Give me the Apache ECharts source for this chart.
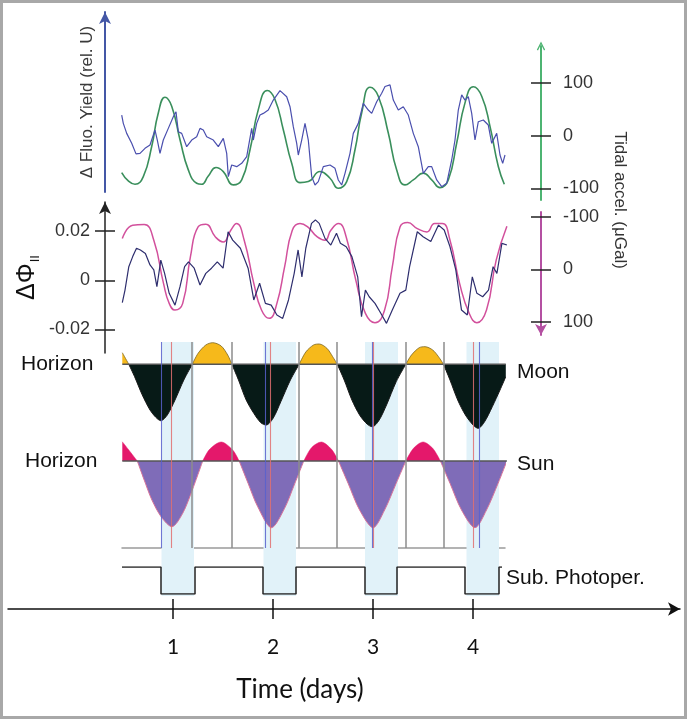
<!DOCTYPE html>
<html><head><meta charset="utf-8">
<script src="https://cdn.jsdelivr.net/npm/echarts@6/dist/echarts.min.js"></script>
<style>html,body{margin:0;padding:0;background:#fff}#c{width:687px;height:719px}</style>
</head><body><div id="c"></div>
<script>
// ---------------- data (time in days) ----------------
const fluoYield = [[0.487,40.5],[0.503,36.0],[0.537,30.6],[0.587,25.2],[0.630,19.5],[0.670,19.8],[0.720,22.5],[0.770,24.3],[0.820,32.4],[0.843,27.0],[0.870,19.8],[0.903,27.0],[0.953,33.3],[1.003,39.6],[1.030,42.3],[1.053,31.5],[1.087,30.6],[1.137,23.4],[1.187,27.0],[1.237,28.8],[1.270,33.3],[1.303,32.4],[1.337,28.8],[1.403,27.0],[1.453,23.4],[1.503,27.9],[1.537,19.8],[1.553,7.2],[1.587,13.5],[1.637,12.6],[1.687,14.4],[1.737,18.0],[1.787,33.3],[1.803,27.0],[1.837,36.0],[1.870,40.5],[1.903,41.4],[1.953,43.2],[2.003,48.6],[2.070,53.7],[2.137,50.4],[2.170,45.0],[2.203,34.2],[2.237,25.2],[2.253,18.9],[2.287,27.0],[2.320,36.0],[2.353,27.0],[2.387,7.2],[2.420,2.7],[2.453,4.5],[2.503,12.6],[2.570,13.5],[2.620,11.7],[2.653,5.4],[2.687,2.7],[2.720,9.0],[2.770,19.8],[2.803,30.6],[2.853,36.0],[2.903,46.8],[2.953,43.2],[2.987,41.4],[3.037,47.7],[3.087,52.3],[3.120,55.9],[3.170,56.8],[3.203,48.6],[3.253,43.2],[3.303,45.0],[3.353,40.5],[3.403,30.6],[3.453,23.4],[3.503,9.0],[3.553,12.6],[3.587,12.6],[3.637,5.4],[3.687,1.8],[3.737,3.6],[3.787,16.2],[3.820,27.0],[3.853,43.2],[3.887,51.4],[3.920,48.6],[3.953,50.4],[3.987,41.4],[4.020,27.0],[4.053,36.9],[4.103,37.8],[4.153,35.1],[4.187,25.2],[4.237,30.6],[4.270,18.9],[4.297,14.4],[4.320,18.9]];

const tidalAccel = [[0.487,-69.9],[0.553,-85.7],[0.620,-92],[0.703,-77.5],[0.787,-20.4],[0.853,43.2],[0.920,73],[0.987,55.8],[1.070,-7.6],[1.153,-64.8],[1.237,-90.1],[1.287,-92],[1.353,-76.2],[1.430,-60.4],[1.503,-68],[1.603,-93.3],[1.687,-83.8],[1.770,-26.7],[1.853,49.5],[1.943,85.7],[2.020,68.6],[2.103,11.4],[2.187,-52],[2.270,-89],[2.353,-87],[2.470,-68],[2.570,-80.6],[2.653,-99.6],[2.737,-87],[2.820,-26.7],[2.887,43.2],[2.970,92],[3.053,74.9],[3.153,5.1],[3.237,-64.8],[3.320,-93.3],[3.403,-83.8],[3.503,-71],[3.587,-83.8],[3.670,-98.5],[3.753,-83.8],[3.837,-13.9],[3.920,62.3],[4.003,92.8],[4.087,74.9],[4.170,17.7],[4.253,-58.5],[4.313,-92]];

const deltaPhiII = [[0.493,-0.0091],[0.520,-0.0040],[0.558,0.0055],[0.597,0.0096],[0.635,0.0130],[0.674,0.0123],[0.724,0.0109],[0.770,0.0062],[0.808,0.0042],[0.839,-0.0026],[0.878,0.0082],[0.916,0.0028],[0.962,-0.0053],[1.020,-0.0101],[1.070,-0.0026],[1.116,0.0055],[1.155,0.0075],[1.212,0.0049],[1.270,-0.0019],[1.328,0.0028],[1.385,0.0049],[1.443,0.0075],[1.501,0.0049],[1.551,0.0197],[1.597,0.0163],[1.674,0.0130],[1.751,0.0049],[1.808,-0.0080],[1.866,-0.0012],[1.924,-0.0094],[1.982,-0.0101],[2.039,-0.0141],[2.097,-0.0155],[2.155,-0.0080],[2.212,0.0028],[2.251,0.0123],[2.289,0.0014],[2.328,0.0130],[2.385,0.0231],[2.424,0.0245],[2.462,0.0231],[2.520,0.0170],[2.578,0.0143],[2.635,0.0191],[2.674,0.0150],[2.732,0.0136],[2.789,0.0096],[2.847,0.0014],[2.885,-0.0148],[2.924,-0.0040],[2.962,-0.0067],[3.020,-0.0094],[3.078,-0.0134],[3.135,-0.0175],[3.193,-0.0121],[3.270,-0.0053],[3.328,-0.0040],[3.366,0.0055],[3.443,0.0197],[3.501,0.0177],[3.578,0.0157],[3.655,0.0224],[3.712,0.0204],[3.770,0.0136],[3.828,0.0042],[3.885,-0.0121],[3.943,-0.0141],[3.993,0.0014],[4.039,-0.0053],[4.097,-0.0067],[4.155,-0.0040],[4.201,0.0055],[4.239,0.0028],[4.289,0.0150],[4.339,0.0143]];

const tidalAccel2 = [[0.493,-58.4],[0.597,-83.6],[0.712,-84.9],[0.808,-55.2],[0.905,26.9],[0.962,64.8],[1.020,77.5],[1.097,64.8],[1.174,-23.5],[1.251,-80.4],[1.328,-85.5],[1.424,-61.4],[1.501,-51.9],[1.578,-74.1],[1.635,-86.8],[1.712,-55.2],[1.808,26.9],[1.885,77.5],[1.962,93.3],[2.039,64.8],[2.116,-4.5],[2.193,-74.1],[2.270,-86.8],[2.347,-80.4],[2.443,-61.4],[2.520,-55.2],[2.578,-74.1],[2.655,-86.8],[2.732,-61.4],[2.828,20.7],[2.924,83.8],[3.020,101.6],[3.116,77.5],[3.193,-4.5],[3.270,-80.4],[3.347,-88.7],[3.443,-77.3],[3.539,-70.9],[3.616,-86.8],[3.693,-86.8],[3.770,-55.2],[3.866,26.9],[3.962,83.8],[4.039,101.6],[4.135,77.5],[4.232,-17.3],[4.339,-81.7]];

const moonAlt = [[0.493,11.6],[0.558,0],[0.616,-12.4],[0.693,-30.7],[0.770,-45.7],[0.828,-53],[0.878,-56.4],[0.943,-50.7],[1.020,-35.7],[1.108,-15.7],[1.193,0],[1.251,11],[1.328,19.3],[1.397,21.6],[1.482,18.3],[1.547,9.3],[1.589,0],[1.655,-15.7],[1.732,-35.7],[1.808,-49],[1.878,-58.4],[1.932,-60.7],[2.001,-54],[2.078,-37.4],[2.174,-15.7],[2.262,0],[2.328,12.3],[2.405,19.3],[2.462,20.3],[2.539,16],[2.597,7.6],[2.643,0],[2.712,-15.7],[2.789,-35.7],[2.866,-50.7],[2.943,-60],[2.993,-62.4],[3.058,-56.4],[3.135,-40.7],[3.232,-17.4],[3.328,0],[3.385,9.3],[3.462,16.6],[3.520,17.6],[3.597,14.3],[3.655,7.6],[3.705,0],[3.770,-15.7],[3.847,-35.7],[3.924,-50.7],[4.001,-60.7],[4.051,-64],[4.116,-57.4],[4.193,-42.4],[4.270,-25.7],[4.328,-12.4]];

const sunAlt = [[0.493,19.3],[0.558,11],[0.643,0],[0.712,-19],[0.789,-39],[0.885,-56.3],[0.989,-65.7],[1.097,-52.3],[1.193,-29],[1.297,0],[1.366,11.7],[1.482,19],[1.597,11],[1.662,0],[1.751,-22.3],[1.847,-45.7],[1.985,-66.7],[2.116,-47.3],[2.212,-24],[2.308,0],[2.385,13.3],[2.482,19],[2.585,11.7],[2.655,0],[2.751,-22.3],[2.866,-49],[3.001,-66.7],[3.116,-49],[3.232,-22.3],[3.328,0],[3.405,12.7],[3.501,19],[3.597,12.7],[3.674,0],[3.770,-22.3],[3.885,-49],[4.020,-66.7],[4.135,-49],[4.251,-22.3],[4.339,0]];

const photoperiod = [[0.49,1],[0.88,0],[1.22,1],[1.90,0],[2.23,1],[2.92,0],[3.24,1],[3.92,0],[4.26,1],[4.29,1]];
const darkBands = [[0.885,1.21],[1.905,2.23],[2.92,3.25],[3.935,4.26]];
const moonRiseSet = [1.193,1.59,2.262,2.643,3.328,3.705];
const moonTransit = [0.878,1.924,2.993,4.058];
const sunMidnight = [0.982,1.974,3.0,4.001];
const dayTicks = [1,2,3,4];
const tidalTicks = [-100,0,100];
const phiTicks = [-0.02,0,0.02];

// ---------------- layout ----------------
const W = 687, PX0 = 73, PXD = 100;
const FONT = "'Liberation Sans', Arial, sans-serif";
const grids = [
  [105,146,12,527],   //0 fluo
  [105,146,46,519],   //1 tidal (green)
  [105,146,46,519],   //2 tidal ticks inner
  [105,146,202,366],  //3 phi
  [105,146,202,366],  //4 phi ticks inner
  [105,146,212,384],  //5 tidal (magenta)
  [105,146,212,384],  //6 magenta ticks inner
  [122,182,342,123],  //7 bands
  [122,182,342,171],  //8 lines
  [122,182,340,289],  //9 moon
  [122,182,435,171],  //10 sun
  [122,182,567,125],  //11 photoperiod
  [8,7,560,110],      //12 time axis
  [8,95,560,110]      //13 time ticks up + name
].map(g=>({left:g[0],right:g[1],top:g[2],bottom:g[3]}));

const hidden = {show:false};
function xa(i, extra){
  const g = grids[i];
  return Object.assign({type:'value', gridIndex:i, min:(g.left-PX0)/PXD, max:(W-g.right-PX0)/PXD,
    show:false, axisLine:{onZero:false}, splitLine:hidden}, extra||{});
}
function ya(i, min, max, extra){
  return Object.assign({type:'value', gridIndex:i, min:min, max:max, show:false,
    axisLine:{onZero:false}, splitLine:hidden}, extra||{});
}
const xAxes = grids.map((g,i)=>xa(i));
xAxes[8] = xa(8,{show:true, axisLine:{show:true,onZero:false,lineStyle:{color:'#9a9a9a',width:1.5}}, axisTick:hidden, axisLabel:hidden});
xAxes[12] = xa(12,{show:true,
  axisLine:{show:true,onZero:false,symbol:['none','arrow'],symbolSize:[10,12],lineStyle:{color:'#111',width:1.5}},
  axisTick:{show:true,customValues:dayTicks,length:10,lineStyle:{color:'#111',width:1.5}},
  axisLabel:{show:true,customValues:dayTicks,margin:28,fontSize:21,fontFamily:'Lato, sans-serif',color:'#111'}});
xAxes[13] = xa(13,{show:true,
  axisLine:{show:false,onZero:false},
  axisTick:{show:true,inside:true,customValues:dayTicks,length:10,lineStyle:{color:'#111',width:1.5}},
  axisLabel:hidden,
  name:'Time (days)', nameLocation:'middle', nameGap:68,
  nameTextStyle:{fontSize:26,fontFamily:'Lato, sans-serif',color:'#111'}});

const tickStyle = {color:'#222',width:1.5};
const yAxes = [
  ya(0,-1.1,96.2,{show:true,position:'left',
    axisLine:{show:true,onZero:false,symbol:['none','arrow'],symbolSize:[9,12],lineStyle:{color:'#4457a6',width:2}},
    axisTick:hidden, axisLabel:hidden,
    name:'Δ Fluo. Yield (rel. U)', nameLocation:'middle', nameRotate:90, nameGap:9,
    nameTextStyle:{fontSize:17,fontFamily:FONT,color:'#3a3a3a'}}),
  ya(1,-121.9,170.1,{show:true,position:'right',
    axisLine:{show:true,onZero:false,symbol:['none','path://M0,10 L5,0 L10,10 L8.6,10.8 L5,3.4 L1.4,10.8 Z'],symbolSize:[10,9],lineStyle:{color:'#4db472',width:2}},
    axisTick:{show:true,customValues:tidalTicks,length:10,lineStyle:tickStyle},
    axisLabel:{show:true,customValues:tidalTicks,margin:22,align:'left',fontSize:18,fontFamily:FONT,color:'#333'}}),
  ya(2,-121.9,170.1,{show:true,position:'right',axisLine:{show:false,onZero:false},
    axisTick:{show:true,inside:true,customValues:tidalTicks,length:10,lineStyle:tickStyle},axisLabel:hidden}),
  ya(3,-0.02954,0.03178,{show:true,position:'left',
    axisLine:{show:true,onZero:false,symbol:['none','arrow'],symbolSize:[9,12],lineStyle:{color:'#222',width:1.5}},
    axisTick:{show:true,customValues:phiTicks,length:10,lineStyle:tickStyle},
    axisLabel:{show:true,customValues:phiTicks,margin:15,fontSize:18,fontFamily:FONT,color:'#333',
      formatter:v=>Math.abs(v)<1e-9?'0':v.toFixed(2)},
    name:'{a|ΔΦ}{b|II}', nameLocation:'middle', nameRotate:90, nameGap:63, nameMoveOverlap:false,
    nameTextStyle:{rich:{a:{fontSize:25,fontFamily:FONT,color:'#111',lineHeight:30},
      b:{fontSize:13,fontFamily:FONT,color:'#111',verticalAlign:'bottom',lineHeight:30,padding:[12,0,0,1]}}}}),
  ya(4,-0.02954,0.03178,{show:true,position:'left',axisLine:{show:false,onZero:false},
    axisTick:{show:true,inside:true,customValues:phiTicks,length:10,lineStyle:tickStyle},axisLabel:hidden}),
  ya(5,-108.8,124.9,{show:true,position:'right',inverse:true,
    axisLine:{show:true,onZero:false,symbol:['arrow','none'],symbolSize:[9,11],lineStyle:{color:'#b450a2',width:2}},
    axisTick:{show:true,customValues:tidalTicks,length:10,lineStyle:tickStyle},
    axisLabel:{show:true,customValues:tidalTicks,margin:22,align:'left',fontSize:18,fontFamily:FONT,color:'#333'}}),
  ya(6,-108.8,124.9,{show:true,position:'right',inverse:true,axisLine:{show:false,onZero:false},
    axisTick:{show:true,inside:true,customValues:tidalTicks,length:10,lineStyle:tickStyle},axisLabel:hidden}),
  ya(7,0,1), ya(8,0,1),
  ya(9,-65.7,24.3),
  ya(10,-87,26),
  ya(11,0,1), ya(12,0,1), ya(13,0,1)
];

const below = arr => arr.map(p=>p[1]<=0?p:[p[0],null]);
const above = arr => arr.map(p=>p[1]>=0?p:[p[0],null]);
const horizon = arr => [[arr[0][0],0],[arr[arr.length-1][0],0]];
const base = {type:'line', showSymbol:false, silent:true, connectNulls:false};

const series = [
  Object.assign({},base,{xAxisIndex:7,yAxisIndex:7,data:[],z:0,
    markArea:{silent:true,itemStyle:{color:'#e1f2f9'},data:darkBands.map(b=>[{xAxis:b[0]},{xAxis:b[1]}])}}),
  Object.assign({},base,{xAxisIndex:8,yAxisIndex:8,data:[],z:1,
    markLine:{silent:true,symbol:['none','none'],label:hidden,lineStyle:{color:'#8c8c8c',width:1.5,type:'solid'},
      data:moonRiseSet.map(v=>({xAxis:v}))}}),
  Object.assign({},base,{xAxisIndex:9,yAxisIndex:9,data:below(moonAlt),smooth:0.3,z:2,
    lineStyle:{color:'#1a1a1a',width:1},areaStyle:{color:'#071a17',opacity:1}}),
  Object.assign({},base,{xAxisIndex:9,yAxisIndex:9,data:above(moonAlt),smooth:0.3,z:2,
    lineStyle:{color:'#7a6420',width:0.8},areaStyle:{color:'#f6b91b',opacity:1}}),
  Object.assign({},base,{xAxisIndex:9,yAxisIndex:9,data:horizon(moonAlt),z:3,lineStyle:{color:'#555',width:1.5}}),
  Object.assign({},base,{xAxisIndex:10,yAxisIndex:10,data:below(sunAlt),smooth:0.3,z:2,
    lineStyle:{color:'#d8759a',width:1},areaStyle:{color:'#7f6cb8',opacity:1}}),
  Object.assign({},base,{xAxisIndex:10,yAxisIndex:10,data:above(sunAlt),smooth:0.3,z:2,
    lineStyle:{color:'#e4186b',width:0.5},areaStyle:{color:'#e4186b',opacity:1}}),
  Object.assign({},base,{xAxisIndex:10,yAxisIndex:10,data:horizon(sunAlt),z:3,lineStyle:{color:'#555',width:1.5}}),
  Object.assign({},base,{xAxisIndex:8,yAxisIndex:8,data:[],z:4,
    markLine:{silent:true,symbol:['none','none'],label:hidden,lineStyle:{color:'#e07070',width:1.1,type:'solid',opacity:0.85},
      data:sunMidnight.map(v=>({xAxis:v}))}}),
  Object.assign({},base,{xAxisIndex:8,yAxisIndex:8,data:[],z:5,
    markLine:{silent:true,symbol:['none','none'],label:hidden,lineStyle:{color:'#5860cc',width:1.1,type:'solid',opacity:0.85},
      data:moonTransit.map(v=>({xAxis:v}))}}),
  Object.assign({},base,{xAxisIndex:11,yAxisIndex:11,data:photoperiod,step:'end',z:3,lineStyle:{color:'#222',width:1.5}}),
  Object.assign({},base,{xAxisIndex:1,yAxisIndex:1,data:tidalAccel,smooth:0.5,z:3,lineStyle:{color:'#3a8f5c',width:1.6}}),
  Object.assign({},base,{xAxisIndex:0,yAxisIndex:0,data:fluoYield,z:4,lineStyle:{color:'#4a4fae',width:1.2}}),
  Object.assign({},base,{xAxisIndex:5,yAxisIndex:5,data:tidalAccel2,smooth:0.5,z:3,lineStyle:{color:'#d2509c',width:1.5}}),
  Object.assign({},base,{xAxisIndex:3,yAxisIndex:3,data:deltaPhiII,z:4,lineStyle:{color:'#2e2e6e',width:1.2}})
];

const txt = (text,x,y,size,extra)=>Object.assign({type:'text',x:x,y:y,silent:true,
  style:{text:text,fontSize:size,fontFamily:FONT,fill:'#111',align:'left',verticalAlign:'middle'}},extra||{});
const graphic = [
  {type:'rect',silent:true,shape:{x:1.5,y:1.5,width:684,height:716},style:{fill:'none',stroke:'#a8a8a8',lineWidth:3}},
  {type:'text',x:620,y:200,rotation:-Math.PI/2,silent:true,
    style:{text:'Tidal accel. (μGal)',fontSize:17,fontFamily:FONT,fill:'#333',align:'center',verticalAlign:'middle'}},
  txt('Horizon',21,364,21),
  txt('Horizon',25,461,21),
  txt('Moon',517,372,21),
  txt('Sun',517,464,21),
  txt('Sub. Photoper.',506,578,21)
];

const chart = echarts.init(document.getElementById('c'));
chart.setOption({animation:false, backgroundColor:'#fff', grid:grids, xAxis:xAxes, yAxis:yAxes, series:series, graphic:graphic});
</script></body></html>
